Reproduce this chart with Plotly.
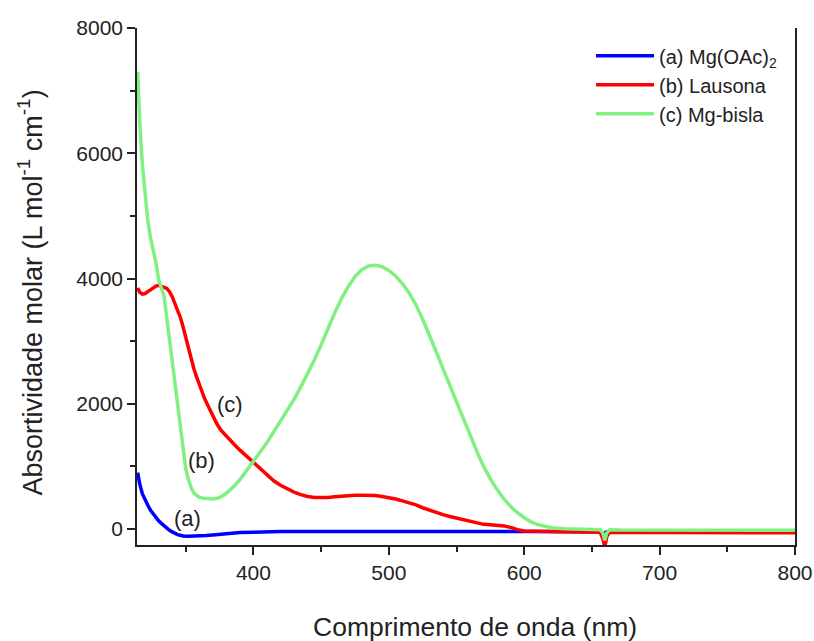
import plotly.graph_objects as go

# ---- data ----
wl_a = [314.5, 316, 318, 320, 322, 324, 326, 328, 330, 332, 334, 336, 338, 340, 342, 344, 346, 348,
        352, 356, 360, 365, 370, 375, 380, 385, 390, 400, 410, 420, 450, 485, 500, 550, 580, 590,
        600, 650, 656, 658, 659.5, 661, 700, 800]
abs_a = [900, 720, 560, 460, 380, 300, 240, 180, 130, 90, 50, 10, -20, -45, -70, -90, -100, -110,
         -115, -115, -112, -105, -95, -85, -70, -60, -55, -50, -45, -40, -40, -38, -40, -40, -35, -30,
         -40, -45, -45, -80, -60, -45, -45, -45]

wl_b = [314.5, 316, 318, 320, 322, 324, 326, 328, 330, 332, 334, 336, 338, 340, 342, 344, 346, 348,
        350, 352, 354, 356, 358, 360, 362, 364, 366, 368, 370, 373, 376, 380, 385, 390, 395, 400,
        405, 410, 415, 420, 425, 430, 435, 440, 445, 450, 455, 460, 465, 470, 475, 480, 485, 490,
        495, 500, 505, 510, 515, 520, 525, 530, 535, 540, 545, 550, 555, 560, 565, 570, 575, 580,
        585, 590, 595, 600, 610, 620, 630, 640, 650, 656, 658, 659.5, 661, 663, 700, 750, 800]
abs_b = [3850, 3780, 3750, 3760, 3790, 3820, 3850, 3880, 3890, 3880, 3860, 3840, 3790, 3710, 3610,
         3490, 3380, 3230, 3050, 2860, 2700, 2560, 2430, 2300, 2190, 2080, 1990, 1900, 1800, 1680,
         1580, 1480, 1370, 1260, 1160, 1060, 960, 860, 770, 700, 640, 590, 550, 520, 505, 500, 505,
         515, 525, 535, 540, 540, 540, 535, 520, 505, 480, 450, 420, 385, 340, 300, 260, 230, 200,
         175, 150, 120, 95, 75, 70, 65, 50, 25, -10, -30, -40, -40, -45, -45, -50, -50, -150, -290,
         -120, -50, -55, -55, -60]

wl_c = [314.5, 316, 318, 320, 322, 324, 326, 328, 330, 332, 334, 336, 338, 340, 342, 344, 346, 348,
        350, 352, 354, 356, 358, 360, 363, 366, 370, 374, 378, 382, 386, 390, 395, 400, 405, 410,
        415, 420, 425, 430, 435, 440, 445, 450, 455, 460, 465, 470, 475, 480, 485, 490, 495, 500,
        505, 510, 515, 520, 525, 530, 535, 540, 545, 550, 555, 560, 565, 570, 575, 580, 585, 590,
        595, 600, 605, 610, 615, 620, 630, 640, 650, 656, 658, 659.5, 661, 663, 670, 700, 750, 800]
abs_c = [7300, 6500, 5800, 5350, 4920, 4650, 4450, 4250, 3980, 3850, 3720, 3370, 3010, 2660, 2310,
         1960, 1600, 1240, 960, 790, 660, 575, 530, 505, 492, 483, 480, 495, 540, 610, 690, 790, 930,
         1090, 1230, 1380, 1550, 1720, 1890, 2070, 2270, 2480, 2700, 2940, 3200, 3450, 3680, 3870,
         4030, 4140, 4200, 4210, 4190, 4130, 4040, 3920, 3770, 3580, 3350, 3100, 2830, 2560, 2290,
         2030, 1760, 1490, 1240, 1000, 800, 630, 480, 360, 260, 180, 115, 70, 40, 20, 5, -5, -10,
         -10, -60, -180, -60, -10, -15, -15, -20, -20]

names = ["(a) Mg(OAc)<sub>2</sub>", "(b) Lausona", "(c) Mg-bisla"]
colors = ["#0000FF", "#FF0000", "#80F080"]

label_text = ["(a)", "(b)", "(c)"]
label_x = [351.3, 361.6, 382.6]
label_y = [171, 1089, 1993]

x_ticks = [400, 500, 600, 700, 800]
y_ticks = [0, 2000, 4000, 6000, 8000]

FONT = "Liberation Sans, Arial, sans-serif"

fig = go.Figure()
for xs, ys, nm, col in zip([wl_a, wl_b, wl_c], [abs_a, abs_b, abs_c], names, colors):
    fig.add_trace(go.Scatter(x=xs, y=ys, mode="lines", name=nm,
                             line=dict(color=col, width=3.5)))

for t, xx, yy in zip(label_text, label_x, label_y):
    fig.add_annotation(x=xx, y=yy, text=t, showarrow=False,
                       font=dict(family=FONT, size=22, color="#222222"))

fig.add_annotation(xref="paper", yref="paper", x=0.514, y=-0.158, text="Comprimento de onda (nm)",
                   showarrow=False, xanchor="center", yanchor="middle",
                   font=dict(family=FONT, size=26.5, color="#222222"))
fig.add_annotation(xref="paper", yref="paper", x=-0.162, y=0.489,
                   text="Absortividade molar (L mol<sup>-1</sup> cm<sup>-1</sup>)",
                   showarrow=False, textangle=-90, xanchor="center", yanchor="middle",
                   font=dict(family=FONT, size=27, color="#222222"))

fig.update_layout(
    width=814, height=641,
    margin=dict(l=137, r=19, t=28, b=96, autoexpand=False),
    paper_bgcolor="white", plot_bgcolor="white",
    font=dict(family=FONT, color="#222222"),
    showlegend=True,
    legend=dict(x=0.69, y=0.984, xanchor="left", yanchor="top", bgcolor="rgba(0,0,0,0)",
                font=dict(family=FONT, size=20, color="#222222"), itemwidth=58,
                tracegroupgap=0),
    xaxis=dict(range=[314, 800], tickvals=x_ticks, ticks="outside", ticklen=8, tickwidth=1.5,
               tickcolor="#222222", showline=True, linecolor="#222222", linewidth=1.5,
               mirror=False, showgrid=False, zeroline=False, automargin=False,
               tickfont=dict(family=FONT, size=21, color="#222222"),
               minor=dict(dtick=50, tick0=350, ticks="outside", ticklen=5, tickcolor="#222222",
                          tickwidth=1.5, showgrid=False)),
    yaxis=dict(range=[-255, 8000], tickvals=y_ticks, ticks="outside", ticklen=8, tickwidth=1.5,
               tickcolor="#222222", showline=True, linecolor="#222222", linewidth=1.5,
               mirror=True, showgrid=False, zeroline=False, automargin=False,
               tickfont=dict(family=FONT, size=21, color="#222222"),
               minor=dict(dtick=1000, tick0=1000, ticks="outside", ticklen=5, tickcolor="#222222",
                          tickwidth=1.5, showgrid=False)),
)

fig.write_html("out.html")
